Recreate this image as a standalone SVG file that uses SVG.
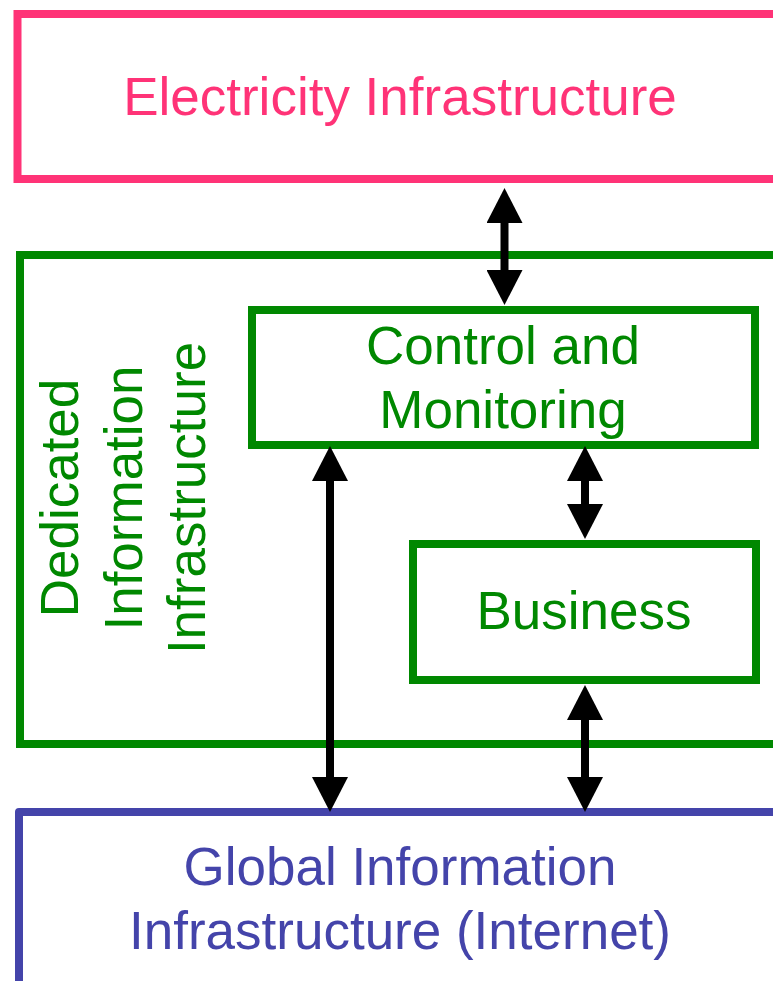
<svg xmlns="http://www.w3.org/2000/svg" width="773" height="981" viewBox="0 0 773 981">
<style>
  .box { fill: #ffffff; stroke-width: 8; }
  .pink { stroke: #ff3377; }
  .green { stroke: #008800; }
  .blue { stroke: #4444aa; stroke-linejoin: round; }
  text { font-family: "Liberation Sans", Arial, sans-serif; font-size: 53px; text-anchor: middle; }
  .tp { fill: #ff3377; }
  .tg { fill: #008800; }
  .tb { fill: #4444aa; }
  .arrow { stroke: #000000; stroke-width: 8; fill: none; marker-start: url(#head); marker-end: url(#head); }
</style>
<defs>
  <marker id="head" markerUnits="userSpaceOnUse" markerWidth="35" markerHeight="36" viewBox="0 0 35 36" refX="0" refY="18" orient="auto-start-reverse">
    <path d="M0,0 L35,18 L0,36 Z" fill="#000000"/>
  </marker>
</defs>
<rect width="773" height="981" fill="#ffffff"/>
<g id="electricity">
  <rect class="box pink" x="17.5" y="14" width="800" height="165"/>
  <text class="tp" x="400" y="115">Electricity Infrastructure</text>
</g>
<g id="dedicated">
  <rect class="box green" x="20" y="255" width="800" height="489"/>
  <text class="tg" transform="translate(78,498) rotate(-90)">Dedicated</text>
  <text class="tg" transform="translate(142,498) rotate(-90)">Information</text>
  <text class="tg" transform="translate(205,498) rotate(-90)">Infrastructure</text>
</g>
<g id="control">
  <rect class="box green" x="252" y="310" width="503" height="135"/>
  <text class="tg" x="503" y="364">Control and</text>
  <text class="tg" x="503" y="428">Monitoring</text>
</g>
<g id="business">
  <rect class="box green" x="413" y="544" width="343" height="136"/>
  <text class="tg" x="584" y="629">Business</text>
</g>
<g id="internet">
  <rect class="box blue" x="19" y="812" width="800" height="300"/>
  <text class="tb" x="400" y="885">Global Information</text>
  <text class="tb" x="400" y="949">Infrastructure (Internet)</text>
</g>
<g id="connectors">
  <line class="arrow" x1="504.5" y1="223" x2="504.5" y2="270"/>
  <line class="arrow" x1="330" y1="481" x2="330" y2="777"/>
  <line class="arrow" x1="585" y1="481" x2="585" y2="504"/>
  <line class="arrow" x1="585" y1="720" x2="585" y2="777"/>
</g>
</svg>
